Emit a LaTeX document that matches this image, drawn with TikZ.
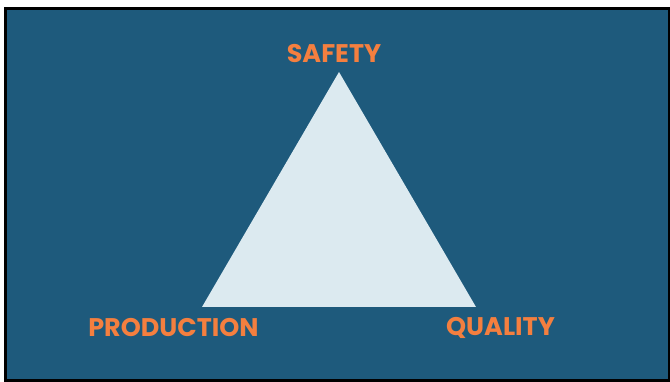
\documentclass[tikz,border=0pt]{standalone}
\usepackage{fontspec}
\setmainfont{Poppins}[UprightFont=* Bold]
\definecolor{bg}{HTML}{1E5A7C}
\definecolor{tri}{HTML}{DCEAF0}
\definecolor{lab}{HTML}{F47F3F}
\begin{document}
\begin{tikzpicture}[x=1pt,y=-1pt,
  lbl/.style={text=lab,font=\fontsize{25.5}{27}\selectfont,inner sep=0pt,anchor=center}]
\useasboundingbox (0,0) rectangle (670,382);
\draw[fill=bg,draw=black,line width=3pt] (5.5,8.5) rectangle (669,380.5);
\coordinate (A) at (339,72);
\coordinate (B) at (202,307);
\coordinate (C) at (476,307);
\fill[tri] (A) -- (B) -- (C) -- cycle;
\node[lbl] (s) at (334,54) {SAFETY};
\node[lbl] (p) at (173.5,328) {PRODUCTION};
\node[lbl] (q) at (500.5,328) {QUALITY};
\end{tikzpicture}
\end{document}
